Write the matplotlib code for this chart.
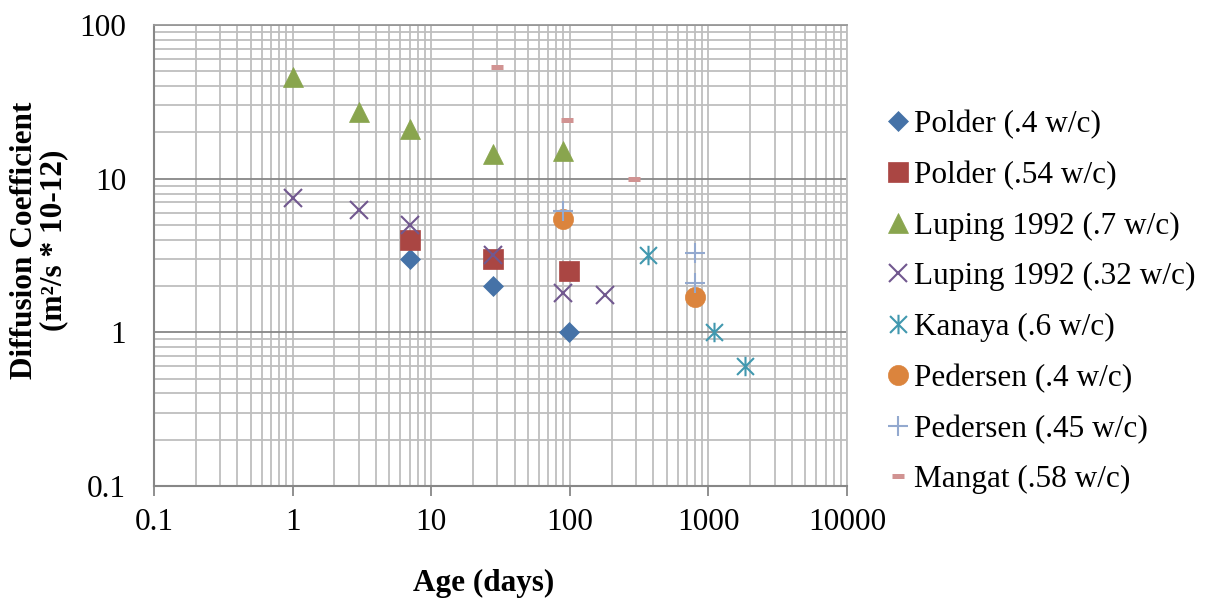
import matplotlib
matplotlib.use("Agg")
import matplotlib.pyplot as plt
from matplotlib.path import Path
from matplotlib.ticker import LogLocator, NullFormatter
import numpy as np

plt.rcParams['font.family'] = ['Liberation Serif', 'DejaVu Serif']

# ---- data ----
polder40_x = [7, 28, 98]
polder40_y = [3.0, 2.0, 1.0]
polder54_x = [7, 28, 98]
polder54_y = [4.0, 3.0, 2.5]
luping70_x = [1, 3, 7, 28, 90]
luping70_y = [46, 27, 21, 14.5, 15.2]
luping32_x = [1, 3, 7, 28, 90, 180]
luping32_y = [7.5, 6.3, 5.0, 3.2, 1.8, 1.75]
kanaya_x = [365, 1095, 1825]
kanaya_y = [3.2, 1.0, 0.6]
pedersen40_x = [90, 800]
pedersen40_y = [5.5, 1.7]
pedersen45_x = [90, 800, 800]
pedersen45_y = [6.2, 3.3, 2.1]
mangat_x = [30, 95, 290]
mangat_y = [53, 24, 10]

x_ticks = [0.1, 1, 10, 100, 1000, 10000]
x_tick_labels = ['0.1', '1', '10', '100', '1000', '10000']
y_ticks = [0.1, 1, 10, 100]
y_tick_labels = ['0.1', '1', '10', '100']

labels = ['Polder (.4 w/c)', 'Polder (.54 w/c)', 'Luping 1992 (.7 w/c)',
          'Luping 1992 (.32 w/c)', 'Kanaya (.6 w/c)', 'Pedersen (.4 w/c)',
          'Pedersen (.45 w/c)', 'Mangat (.58 w/c)']

# ---- figure ----
W, H = 1218, 602
fig = plt.figure(figsize=(W / 100, H / 100), dpi=100)
L, R, T, B = 154, 847, 25, 486
ax = fig.add_axes([L / W, 1 - B / H, (R - L) / W, (B - T) / H])
ax.set_xscale('log')
ax.set_yscale('log')
ax.set_xlim(0.1, 10000)
ax.set_ylim(0.1, 100)

light = '#BEBEBE'
dark = '#878787'
ax.xaxis.set_minor_locator(LogLocator(base=10, subs=np.arange(2, 10)))
ax.yaxis.set_minor_locator(LogLocator(base=10, subs=np.arange(2, 10)))
ax.xaxis.set_minor_formatter(NullFormatter())
ax.yaxis.set_minor_formatter(NullFormatter())
ax.grid(True, which='minor', axis='both', color=light, linewidth=1.3)
ax.grid(True, which='major', axis='x', color=light, linewidth=1.3)
ax.grid(True, which='major', axis='y', color=dark, linewidth=1.3)
ax.set_axisbelow(True)

ax.set_xticks(x_ticks, x_tick_labels)
ax.set_yticks(y_ticks, y_tick_labels)
ax.tick_params(axis='x', which='major', length=7, width=1.3, color=dark,
               labelsize=22.5, pad=9)
ax.tick_params(axis='y', which='major', length=0, labelsize=22.5, pad=20)
ax.tick_params(which='minor', length=0)

for s in ['left', 'bottom']:
    ax.spines[s].set_color(dark)
    ax.spines[s].set_linewidth(1.5)
ax.spines['top'].set_color('#999999')
ax.spines['top'].set_linewidth(1.3)
ax.spines['right'].set_color(light)
ax.spines['right'].set_linewidth(1.3)

# asterisk marker (x + vertical bar)
star_path = Path([(-1, -1), (1, 1), (-1, 1), (1, -1), (0, -1.15), (0, 1.15)],
                 [Path.MOVETO, Path.LINETO, Path.MOVETO, Path.LINETO,
                  Path.MOVETO, Path.LINETO])

c_blue = '#4572A7'
c_red = '#AA4643'
c_green = '#89A54E'
c_purple = '#71588F'
c_teal = '#4198AF'
c_orange = '#DB843D'
c_lblue = '#93A9CF'
c_pink = '#D19392'

h = []
h += ax.plot(polder40_x, polder40_y, ls='none', marker='D', ms=10.2,
             mfc=c_blue, mec=c_blue, mew=0.5, label=labels[0])
h += ax.plot(polder54_x, polder54_y, ls='none', marker='s', ms=14,
             mfc=c_red, mec=c_red, mew=0.5, label=labels[1])
h += ax.plot(luping70_x, luping70_y, ls='none', marker='^', ms=14.5,
             mfc=c_green, mec=c_green, mew=0.5, label=labels[2])
h += ax.plot(luping32_x, luping32_y, ls='none', marker='x', ms=13,
             mec=c_purple, mew=1.5, label=labels[3])
h += ax.plot(kanaya_x, kanaya_y, ls='none', marker=star_path, ms=14,
             mfc='none', mec=c_teal, mew=1.5, label=labels[4])
h += ax.plot(pedersen40_x, pedersen40_y, ls='none', marker='o', ms=14.5,
             mfc=c_orange, mec=c_orange, mew=0.5, label=labels[5])
h += ax.plot(pedersen45_x, pedersen45_y, ls='none', marker='+', ms=14,
             mec=c_lblue, mew=1.5, label=labels[6])
h += ax.plot(mangat_x, mangat_y, ls='none', marker='_', ms=8,
             mec=c_pink, mew=3.6, label=labels[7])

fs = 22.5
leg = fig.legend(handles=h, loc='upper left',
                 bbox_to_anchor=(889 / W, 1 - 110 / H),
                 frameon=False, fontsize=fs, numpoints=1,
                 handlelength=0.6, handletextpad=0.2,
                 labelspacing=0.69, borderpad=0, borderaxespad=0)

fig.text(484 / W, 1 - 583 / H, 'Age (days)', ha='center', va='center',
         fontsize=22.5, fontweight='bold')
fig.text(39 / W, 1 - 240 / H, 'Diffusion Coefficient\n(m\u00b2/s * 10-12)',
         ha='center', va='center', rotation=90, fontsize=22.5,
         fontweight='bold', multialignment='center', linespacing=1.0)

fig.savefig('out.png', dpi=100)
